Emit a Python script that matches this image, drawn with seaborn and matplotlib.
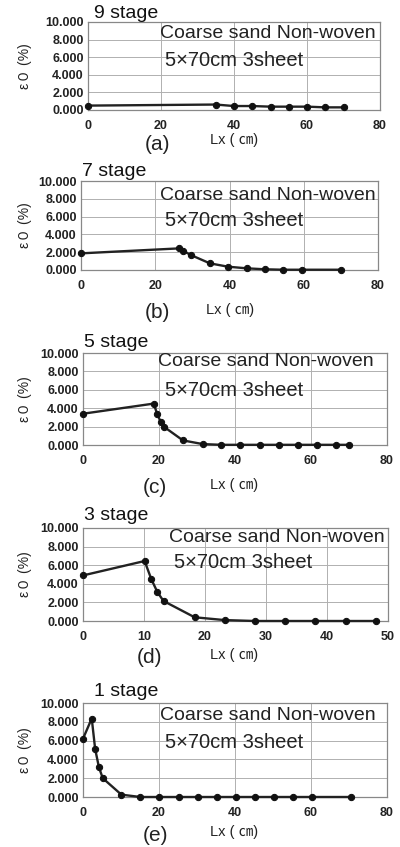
import matplotlib
matplotlib.use("Agg")
import matplotlib.pyplot as plt
import seaborn as sns
import pandas as pd

# ---- data ----
x_9 = [0, 35, 40, 45, 50, 55, 60, 65, 70]
y_9 = [0.50, 0.62, 0.45, 0.45, 0.38, 0.38, 0.38, 0.30, 0.30]

x_7 = [0, 26.5, 27.5, 29.6, 34.7, 39.6, 44.6, 49.5, 54.5, 59.5, 70]
y_7 = [1.87, 2.43, 2.16, 1.68, 0.75, 0.37, 0.19, 0.08, 0.03, 0.03, 0.03]

x_5 = [0, 18.6, 19.5, 20.4, 21.4, 26.3, 31.5, 36.4, 41.4, 46.5, 51.6, 56.5, 61.6, 66.6, 70]
y_5 = [3.40, 4.50, 3.40, 2.55, 1.95, 0.50, 0.10, 0.02, 0.02, 0.02, 0.02, 0.02, 0.02, 0.02, 0.02]

x_3 = [0, 10.1, 11.2, 12.2, 13.2, 18.3, 23.2, 28.2, 33.1, 38.1, 43.1, 48.1]
y_3 = [4.90, 6.45, 4.50, 3.10, 2.15, 0.40, 0.10, 0.0, 0.0, 0.0, 0.0, 0.0]

x_1 = [0, 2.3, 3.2, 4.2, 5.2, 10.1, 15.1, 20.1, 25.2, 30.2, 35.2, 40.2, 45.3, 50.3, 55.2, 60.3, 70.4]
y_1 = [6.20, 8.35, 5.10, 3.15, 2.00, 0.25, 0.0, 0.0, 0.0, 0.0, 0.0, 0.0, 0.0, 0.0, 0.0, 0.0, 0.0]

stages = ["9 stage", "7 stage", "5 stage", "3 stage", "1 stage"]
letters = ["(a)", "(b)", "(c)", "(d)", "(e)"]
series = [(x_9, y_9), (x_7, y_7), (x_5, y_5), (x_3, y_3), (x_1, y_1)]
xmax = [80, 80, 80, 50, 80]
xstep = [20, 20, 20, 10, 20]
y_ticks = [0, 2, 4, 6, 8, 10]
note1 = "Coarse sand Non-woven"
note2 = "5×70cm 3sheet"
ylabel = "ε０ (%)"
xlabel = "Lx ( ㎝)"

# ---- layout (pixels) ----
W, H = 400, 847
# left, right, top, bottom
boxes = [(88, 380, 22, 110), (81, 378, 181, 270), (83, 387, 353, 445),
         (83, 388, 528, 621), (83, 387, 703, 797)]
stage_pos = [(94, 13), (82, 172), (84, 342), (84, 515), (94, 692)]
note_pos = [(160, 33, 165, 60), (160, 195, 165, 221), (158, 362, 165, 390),
            (169, 537, 174, 563), (160, 715, 165, 742)]
letter_pos = [(157, 145), (157, 312), (155, 487), (150, 657), (155, 835)]
xlab_pos = [(234, 140), (230, 310), (234, 485), (234, 655), (234, 832)]

sns.set_theme(style="white")
plt.rcParams['font.family'] = ['Liberation Sans', 'Noto Sans CJK JP', 'DejaVu Sans']

fig = plt.figure(figsize=(W / 100, H / 100), dpi=100)
fig.patch.set_facecolor("white")

def fx(px):
    return px / W

def fy(py):
    return 1 - py / H

for i, (xs, ys) in enumerate(series):
    l, r, t, b = boxes[i]
    ax = fig.add_axes([fx(l), fy(b), fx(r) - fx(l), fy(t) - fy(b)])
    df = pd.DataFrame({"Lx": xs, "eps": ys})
    sns.lineplot(data=df, x="Lx", y="eps", ax=ax, color="#222222", linewidth=1.7,
                 marker="o", markersize=4.5, markeredgecolor="#111111",
                 markerfacecolor="#111111", sort=False, zorder=3, clip_on=False)
    ax.set_xlim(0, xmax[i])
    ax.set_ylim(0, 10)
    ax.set_xticks(list(range(0, xmax[i] + 1, xstep[i])))
    ax.set_yticks(y_ticks)
    ax.set_yticklabels([f"{v:.3f}" for v in y_ticks])
    ax.grid(True, color="#b0b0b0", linewidth=0.7)
    for s in ax.spines.values():
        s.set_color("#888888")
        s.set_linewidth(0.9)
    ax.tick_params(axis="both", length=0, labelsize=9, colors="#222222", pad=3)
    for lab in ax.get_xticklabels() + ax.get_yticklabels():
        lab.set_fontweight("bold")
    ax.tick_params(axis="x", pad=7)
    ax.set_xlabel("")
    ax.set_ylabel("")
    fig.text(fx(25), fy((t + b) / 2), ylabel, rotation=90, ha="center", va="center",
             fontsize=10, color="#222222")
    fig.text(fx(xlab_pos[i][0]), fy(xlab_pos[i][1]), xlabel, ha="center", va="center",
             fontsize=10.5, color="#222222")
    fig.text(fx(letter_pos[i][0]), fy(letter_pos[i][1]), letters[i], ha="center",
             va="center", fontsize=15, color="#222222")
    fig.text(fx(stage_pos[i][0]), fy(stage_pos[i][1]), stages[i], ha="left",
             va="center", fontsize=14, color="#111111")
    n = note_pos[i]
    fig.text(fx(n[0]), fy(n[1]), note1, ha="left", va="center", fontsize=14,
             color="#222222")
    fig.text(fx(n[2]), fy(n[3]), note2, ha="left", va="center", fontsize=14.5,
             color="#222222")

fig.savefig("out.png", dpi=100, facecolor="white")
